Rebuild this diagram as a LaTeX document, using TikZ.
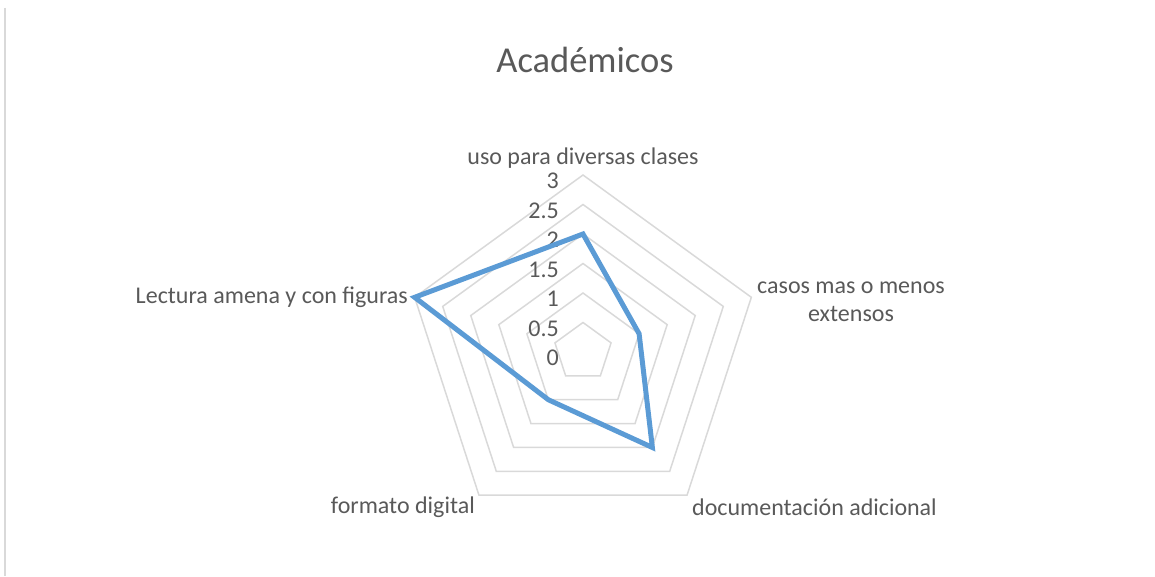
\documentclass[tikz,border=0pt]{standalone}
\usepackage{fontspec}
\setmainfont{Carlito}
\usepackage{tikz}
\usetikzlibrary{positioning}
\definecolor{textogris}{HTML}{595959}
\definecolor{rejilla}{HTML}{D9D9D9}
\definecolor{serie}{HTML}{5B9BD5}
\tikzstyle{anillo} = [draw=rejilla, line width=1.5pt, line join=miter]
\tikzstyle{eje} = [text=textogris, font=\fontsize{24}{28}\selectfont, inner sep=0pt]
\tikzstyle{escala} = [text=textogris, font=\fontsize{24}{28}\selectfont, inner sep=0pt, anchor=east]
\tikzstyle{titulo} = [text=textogris, font=\fontsize{36.5}{40}\selectfont, inner sep=0pt]
\tikzstyle{datos} = [draw=serie, line width=5pt, line join=miter]

\begin{document}
\begin{tikzpicture}
					\useasboundingbox (-583pt,-224pt) rectangle (572pt,352pt);
					% marco
					\draw[rejilla, line width=2pt] (-578pt,344pt) -- (-578pt,-224pt);
					% titulo
					\node[titulo] (titulo) at (2pt,292pt) {Académicos};
					% rejilla
					\draw[anillo] (90:29.5pt) -- (162:29.5pt) -- (234:29.5pt) -- (306:29.5pt) -- (18:29.5pt) -- cycle;
					\draw[anillo] (90:59pt) -- (162:59pt) -- (234:59pt) -- (306:59pt) -- (18:59pt) -- cycle;
					\draw[anillo] (90:88.5pt) -- (162:88.5pt) -- (234:88.5pt) -- (306:88.5pt) -- (18:88.5pt) -- cycle;
					\draw[anillo] (90:118pt) -- (162:118pt) -- (234:118pt) -- (306:118pt) -- (18:118pt) -- cycle;
					\draw[anillo] (90:147.5pt) -- (162:147.5pt) -- (234:147.5pt) -- (306:147.5pt) -- (18:147.5pt) -- cycle;
					\draw[anillo] (90:177pt) -- (162:177pt) -- (234:177pt) -- (306:177pt) -- (18:177pt) -- cycle;
					% escala
					\node[escala] (e0) at (-24pt,-6pt) {0};
					\node[escala] (e05) at (-24pt,23pt) {0.5};
					\node[escala] (e1) at (-24pt,53pt) {1};
					\node[escala] (e15) at (-24pt,82pt) {1.5};
					\node[escala] (e2) at (-24pt,112pt) {2};
					\node[escala] (e25) at (-24pt,141pt) {2.5};
					\node[escala] (e3) at (-24pt,171pt) {3};
					% ejes
					\node[eje] (uso) at (0pt,194pt) {uso para diversas clases};
					\node[eje, anchor=west, align=center] (casos) at (174pt,50pt) {casos mas o menos\\extensos};
					\node[eje, anchor=west] (documentacion) at (109pt,-155pt) {documentación adicional};
					\node[eje, anchor=east] (formato) at (-108pt,-155pt) {formato digital};
					\node[eje, anchor=east] (lectura) at (-175pt,55pt) {Lectura amena y con figuras};
					% valores
					\coordinate (vuso) at (90:118pt);
					\coordinate (vcasos) at (18:59pt);
					\coordinate (vdoc) at (306:118pt);
					\coordinate (vformato) at (234:59pt);
					\coordinate (vlectura) at (162:177pt);
					\draw[datos] (vuso) -- (vcasos) -- (vdoc) -- (vformato) -- (vlectura) -- cycle;
\end{tikzpicture}
\end{document}
